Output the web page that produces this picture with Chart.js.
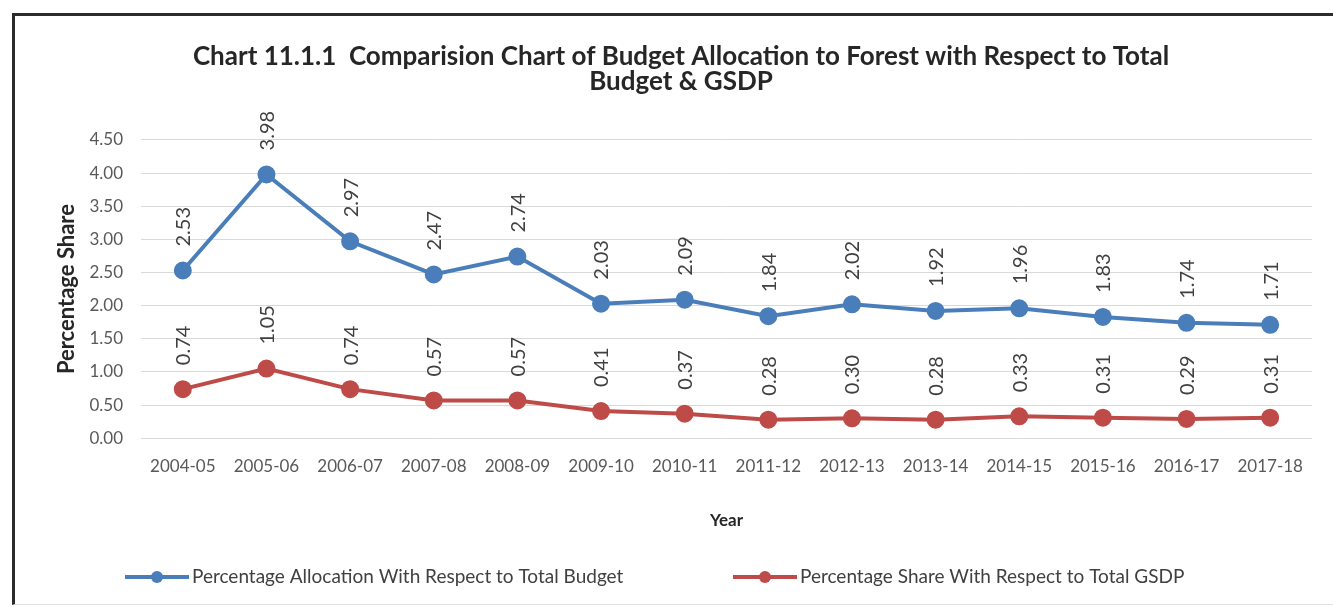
<!DOCTYPE html>
<html>
<head>
<meta charset="utf-8">
<script src="https://cdn.jsdelivr.net/npm/chart.js@4/dist/chart.umd.min.js"></script>
<style>
  html, body { margin: 0; padding: 0; background: #fff; }
  #wrap { position: relative; width: 1333px; height: 608px; overflow: hidden; }
  #frame { position: absolute; left: 12px; top: 13px; width: 1400px; height: 588px;
           border-left: 3px solid #2b2b2b; border-top: 3px solid #2b2b2b; border-bottom: 1px solid #e2e2e2; }
  #chart { position: absolute; left: 0; top: 0; }
</style>
</head>
<body>
<div id="wrap">
  <div id="frame"></div>
  <canvas id="chart" width="1333" height="608"></canvas>
</div>
<script>
// Chart 11.1.1 - budget allocation to forest

const years = ['2004-05', '2005-06', '2006-07', '2007-08', '2008-09', '2009-10', '2010-11',
               '2011-12', '2012-13', '2013-14', '2014-15', '2015-16', '2016-17', '2017-18'];
const budgetShare = [2.53, 3.98, 2.97, 2.47, 2.74, 2.03, 2.09, 1.84, 2.02, 1.92, 1.96, 1.83, 1.74, 1.71];
const gsdpShare = [0.74, 1.05, 0.74, 0.57, 0.57, 0.41, 0.37, 0.28, 0.30, 0.28, 0.33, 0.31, 0.29, 0.31];
const seriesNames = ['Percentage Allocation With Respect to Total Budget',
                     'Percentage Share With Respect to Total GSDP'];
const titleLines = ['Chart 11.1.1  Comparision Chart of Budget Allocation to Forest with Respect to Total',
                    'Budget & GSDP'];

const FONT = 'Lato, "Open Sans", sans-serif';
const blue = '#4a7ebb';
const red = '#be4b48';

// rotated value labels above each point
const valueLabels = {
    id: 'valueLabels',
    afterDatasetsDraw(chart) {
        const ctx = chart.ctx;
        ctx.save();
        ctx.font = '20px ' + FONT;
        ctx.fillStyle = '#404040';
        ctx.textAlign = 'left';
        ctx.textBaseline = 'middle';
        chart.data.datasets.forEach((ds, i) => {
            chart.getDatasetMeta(i).data.forEach((pt, j) => {
                ctx.save();
                ctx.translate(pt.x + 1, pt.y - 24);
                ctx.rotate(-Math.PI / 2);
                ctx.fillText(ds.data[j].toFixed(2), 0, 0);
                ctx.restore();
            });
        });
        ctx.restore();
    }
};

// legend with line + marker; item starts follow the original layout
const lineLegend = {
    id: 'lineLegend',
    afterDraw(chart) {
        const ctx = chart.ctx;
        const y = 577, lineLen = 64, gap = 3;
        const starts = [125, 733];
        ctx.save();
        ctx.font = '19px ' + FONT;
        ctx.textBaseline = 'middle';
        ctx.textAlign = 'left';
        chart.data.datasets.forEach((ds, i) => {
            const x = starts[i];
            ctx.strokeStyle = ds.borderColor;
            ctx.lineWidth = 4;
            ctx.beginPath();
            ctx.moveTo(x, y);
            ctx.lineTo(x + lineLen, y);
            ctx.stroke();
            ctx.fillStyle = ds.borderColor;
            ctx.beginPath();
            ctx.arc(x + lineLen / 2, y, 6, 0, Math.PI * 2);
            ctx.fill();
            ctx.fillStyle = '#404040';
            ctx.fillText(ds.label, x + lineLen + gap, y);
        });
        ctx.restore();
    }
};

new Chart(document.getElementById('chart').getContext('2d'), {
    type: 'line',
    data: {
        labels: years,
        datasets: [
            {
                label: seriesNames[0],
                data: budgetShare,
                borderColor: blue,
                backgroundColor: blue,
                pointBackgroundColor: blue,
                pointBorderColor: blue,
                borderWidth: 4,
                pointRadius: 7,
                tension: 0
            },
            {
                label: seriesNames[1],
                data: gsdpShare,
                borderColor: red,
                backgroundColor: red,
                pointBackgroundColor: red,
                pointBorderColor: red,
                borderWidth: 4,
                pointRadius: 7,
                tension: 0
            }
        ]
    },
    options: {
        responsive: false,
        animation: false,
        devicePixelRatio: 1,
        layout: { padding: { left: 50, right: 21, top: 0, bottom: 73 } },
        plugins: {
            legend: { display: false },
            tooltip: { enabled: false },
            title: {
                display: true,
                text: titleLines,
                color: '#262626',
                font: { family: FONT, size: 26, weight: 'bold', lineHeight: 0.96 },
                padding: { top: 44.5, bottom: 45.5 }
            }
        },
        scales: {
            x: {
                offset: true,
                grid: { display: false, drawTicks: false },
                border: { display: false },
                ticks: { color: '#595959', font: { family: FONT, size: 17 }, padding: 18, maxRotation: 0 },
                title: {
                    display: true, text: 'Year', color: '#262626',
                    font: { family: FONT, size: 17, weight: 'bold' },
                    padding: { top: 16, bottom: 4 }
                }
            },
            y: {
                min: 0,
                max: 4.5,
                grid: { color: '#d9d9d9', drawTicks: false },
                border: { display: false },
                afterFit: scale => { scale.width = 91; },
                ticks: {
                    stepSize: 0.5,
                    color: '#595959',
                    font: { family: FONT, size: 17 },
                    padding: 18,
                    callback: v => v.toFixed(2)
                },
                title: {
                    display: true, text: 'Percentage Share', color: '#262626',
                    font: { family: FONT, size: 22, weight: 'bold' },
                    padding: { top: 4, bottom: 4 }
                }
            }
        }
    },
    plugins: [valueLabels, lineLegend]
});
</script>
</body>
</html>
